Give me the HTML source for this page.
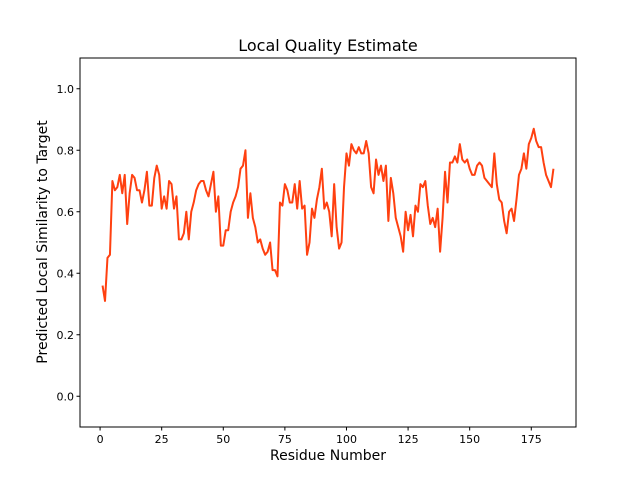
<!DOCTYPE html>
<html><head><meta charset="utf-8"><style>
body{margin:0;background:#fff;}
svg text{font-family:"DejaVu Sans","Liberation Sans",sans-serif;fill:#000;}
</style></head><body>
<svg id="chart" width="640" height="480" xmlns="http://www.w3.org/2000/svg">
<rect width="640" height="480" fill="#fff"/>
<text x="328" y="51" font-size="16" text-anchor="middle">Local Quality Estimate</text>
<g id="plot"></g>
<text x="328" y="460" font-size="14" text-anchor="middle">Residue Number</text>
<text transform="translate(47,242) rotate(-90)" font-size="14" text-anchor="middle">Predicted Local Similarity to Target</text>
</svg>
<script>
const scores = [0.36,0.31,0.45,0.46,0.70,0.67,0.68,0.72,0.66,0.72,
0.56,0.66,0.72,0.71,0.67,0.67,0.63,0.67,0.73,0.62,
0.62,0.71,0.75,0.72,0.61,0.65,0.61,0.70,0.69,0.61,
0.65,0.51,0.51,0.53,0.60,0.51,0.60,0.63,0.67,0.69,
0.70,0.70,0.67,0.65,0.69,0.73,0.60,0.65,0.49,0.49,
0.54,0.54,0.60,0.63,0.65,0.68,0.74,0.75,0.80,0.58,
0.66,0.58,0.55,0.50,0.51,0.48,0.46,0.47,0.50,0.41,
0.41,0.39,0.63,0.62,0.69,0.67,0.63,0.63,0.69,0.61,
0.70,0.61,0.62,0.46,0.50,0.61,0.58,0.64,0.68,0.74,
0.61,0.63,0.60,0.52,0.69,0.55,0.48,0.50,0.68,0.79,
0.75,0.82,0.80,0.79,0.81,0.79,0.79,0.83,0.79,0.68,
0.66,0.77,0.72,0.75,0.70,0.75,0.57,0.71,0.66,0.58,
0.55,0.52,0.47,0.60,0.54,0.59,0.52,0.62,0.60,0.69,
0.68,0.70,0.62,0.56,0.58,0.55,0.61,0.47,0.58,0.73,
0.63,0.76,0.76,0.78,0.76,0.82,0.77,0.76,0.77,0.74,
0.72,0.72,0.75,0.76,0.75,0.71,0.70,0.69,0.68,0.79,
0.69,0.64,0.63,0.57,0.53,0.60,0.61,0.57,0.64,0.72,
0.74,0.79,0.74,0.82,0.84,0.87,0.83,0.81,0.81,0.76,
0.72,0.70,0.68,0.74];
const xTicks = [0,25,50,75,100,125,150,175];
const yTicks = [0.0,0.2,0.4,0.6,0.8,1.0];
const yTickLabels = ["0.0","0.2","0.4","0.6","0.8","1.0"];

const L=80,R=576,T=58,B=427;
const xmin=-8.15,xmax=193.15,ymin=-0.1,ymax=1.1;
const sx=v=>L+(v-xmin)/(xmax-xmin)*(R-L);
const sy=v=>B-(v-ymin)/(ymax-ymin)*(B-T);
const NS="http://www.w3.org/2000/svg";
const g=document.getElementById('plot');
function mk(t,a){const e=document.createElementNS(NS,t);for(const k in a)e.setAttribute(k,a[k]);g.appendChild(e);return e;}

const pts=scores.map((v,i)=>sx(i+1).toFixed(2)+','+sy(v).toFixed(2)).join(' ');
const line=mk('polyline',{points:pts,fill:'none',stroke:'#ff4010','stroke-width':2,'stroke-linejoin':'round'});



const frame=mk('rect',{x:L,y:T,width:R-L,height:B-T,fill:'none',stroke:'#000','stroke-width':1});



xTicks.forEach(v=>{
  const x=sx(v);
  const t=mk('line',{x1:x,x2:x,y1:B,y2:B+3.5,stroke:'#000'});
  
  
  const l=mk('text',{x:x,y:B+16,'font-size':11,'text-anchor':'middle'});
  l.textContent=v;
  
  
});
yTicks.forEach((v,i)=>{
  const y=sy(v);
  const t=mk('line',{x1:L-3.5,x2:L,y1:y,y2:y,stroke:'#000'});
  
  
  const l=mk('text',{x:L-6,y:y+4,'font-size':11,'text-anchor':'end'});
  l.textContent=yTickLabels[i];
  
  
});
</script>
</body></html>
